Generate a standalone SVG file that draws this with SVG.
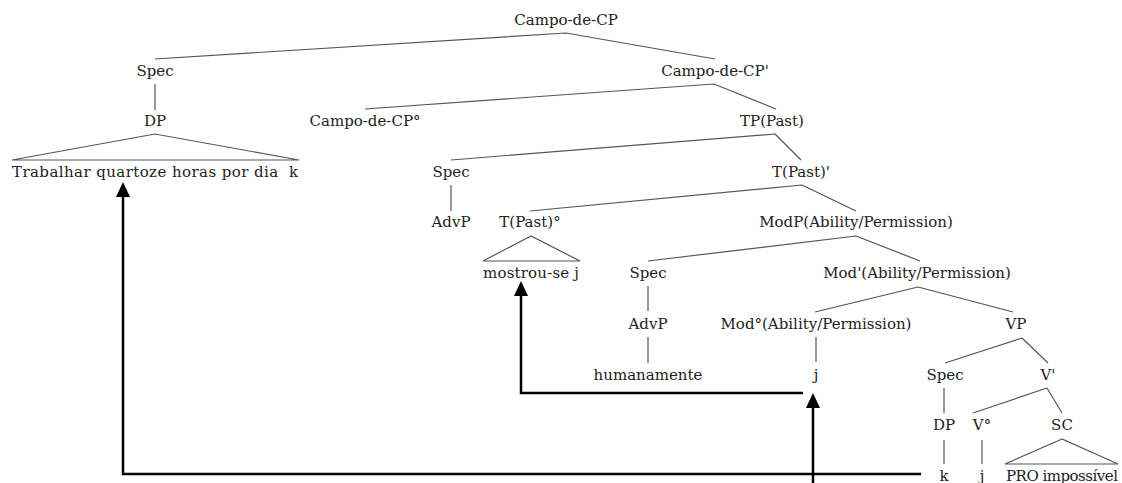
<svg xmlns="http://www.w3.org/2000/svg" width="1122" height="483" viewBox="0 0 1122 483">
  <style>
    .lbl { font-family: "DejaVu Serif", "Liberation Serif", serif; font-size: 15px; fill: #222; text-anchor: middle; }
    .edge { stroke: #555; stroke-width: 1.2; fill: none; }
    .move { stroke: #000; stroke-width: 2.5; fill: none; marker-end: url(#head); }
  </style>
  <defs>
    <marker id="head" viewBox="0 0 15 14" refX="0" refY="7" markerWidth="15" markerHeight="14" markerUnits="userSpaceOnUse" orient="auto">
      <path d="M0,0 L15,7 L0,14 z" fill="#000"/>
    </marker>
  </defs>
  <rect width="1122" height="483" fill="#fff"/>

  <!-- tree branches -->
  <g id="branches">
    <path class="edge" d="M566,33 L155,59 M566,33 L715,59"/>
    <path class="edge" d="M155,84 V110"/>
    <path class="edge" d="M155,134 L12,160 H299 Z"/>
    <path class="edge" d="M714,84 L365,109 M714,84 L776,109"/>
    <path class="edge" d="M775,134 L451,160 M775,134 L801,160"/>
    <path class="edge" d="M451,185 V211"/>
    <path class="edge" d="M802,185 L530,211 M802,185 L856,211"/>
    <path class="edge" d="M531,236 L483,261 H580 Z"/>
    <path class="edge" d="M856,236 L648,261 M856,236 L920,261"/>
    <path class="edge" d="M648,286 V311 M648,337 V363"/>
    <path class="edge" d="M918,287 L815,312 M918,287 L1013,312"/>
    <path class="edge" d="M816,337 V362"/>
    <path class="edge" d="M1022,338 L945,363 M1022,338 L1048,363"/>
    <path class="edge" d="M944,388 V413"/>
    <path class="edge" d="M1047,388 L973,413 M1047,388 L1062,413"/>
    <path class="edge" d="M944,440 V464 M982,440 V464"/>
    <path class="edge" d="M1062,439 L1005,464 H1118 Z"/>
  </g>

  <!-- movement arrows -->
  <g id="connectors">
    <path class="move" d="M921,474 H123 V197"/>
    <path class="move" d="M813,483 V408"/>
    <path class="move" d="M803,393 H521 V296"/>
  </g>

  <g id="n-campo-cp"><text class="lbl" x="566" y="25">Campo-de-CP</text></g>
  <g id="n-spec1"><text class="lbl" x="155" y="76">Spec</text></g>
  <g id="n-campo-cp-bar"><text class="lbl" x="715" y="76">Campo-de-CP'</text></g>
  <g id="n-dp1"><text class="lbl" x="155" y="126">DP</text></g>
  <g id="n-trabalhar"><text class="lbl" x="155" y="177" textLength="286" xml:space="preserve">Trabalhar quartoze horas por dia  k</text></g>
  <g id="n-campo-cp-head"><text class="lbl" x="365" y="126">Campo-de-CP°</text></g>
  <g id="n-tp"><text class="lbl" x="772" y="126">TP(Past)</text></g>
  <g id="n-spec2"><text class="lbl" x="451" y="177">Spec</text></g>
  <g id="n-t-bar"><text class="lbl" x="801" y="177">T(Past)'</text></g>
  <g id="n-advp1"><text class="lbl" x="451" y="227">AdvP</text></g>
  <g id="n-t-head"><text class="lbl" x="530" y="227">T(Past)°</text></g>
  <g id="n-modp"><text class="lbl" x="856" y="227">ModP(Ability/Permission)</text></g>
  <g id="n-mostrou"><text class="lbl" x="531" y="278" textLength="96" xml:space="preserve">mostrou-se j</text></g>
  <g id="n-spec3"><text class="lbl" x="648" y="278">Spec</text></g>
  <g id="n-mod-bar"><text class="lbl" x="917" y="278">Mod'(Ability/Permission)</text></g>
  <g id="n-advp2"><text class="lbl" x="648" y="329">AdvP</text></g>
  <g id="n-mod-head"><text class="lbl" x="816" y="329">Mod°(Ability/Permission)</text></g>
  <g id="n-vp"><text class="lbl" x="1016" y="329">VP</text></g>
  <g id="n-humanamente"><text class="lbl" x="648" y="380">humanamente</text></g>
  <g id="n-j1"><text class="lbl" x="816" y="380">j</text></g>
  <g id="n-spec4"><text class="lbl" x="945" y="380">Spec</text></g>
  <g id="n-v-bar"><text class="lbl" x="1048" y="380">V'</text></g>
  <g id="n-dp2"><text class="lbl" x="944" y="430">DP</text></g>
  <g id="n-v-head"><text class="lbl" x="982" y="430">V°</text></g>
  <g id="n-sc"><text class="lbl" x="1062" y="430">SC</text></g>
  <g id="n-k"><text class="lbl" x="944" y="481">k</text></g>
  <g id="n-j2"><text class="lbl" x="982" y="481">j</text></g>
  <g id="n-pro"><text class="lbl" x="1062" y="481" textLength="112">PRO impossível</text></g>
</svg>
